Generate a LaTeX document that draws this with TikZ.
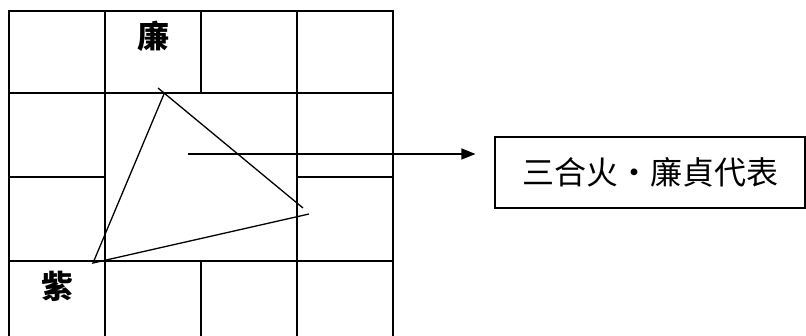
\documentclass[tikz,border=0pt]{standalone}
\usepackage{fontspec}
\newfontfamily\cjk{Noto Sans CJK TC}
\usetikzlibrary{arrows.meta}

\begin{document}
\begin{tikzpicture}[x=1pt,y=-1pt,line width=1.5pt]
    \useasboundingbox (0,0) rectangle (806,336);
    \clip (0,0) rectangle (806,336);
    % chart grid
    \draw (9,337) -- (9,11) -- (393,11) -- (393,337);
    \draw (9,93) -- (393,93);
    \draw (9,261) -- (393,261);
    \draw (9,177) -- (105,177);
    \draw (297,177) -- (393,177);
    \draw (105,11) -- (105,337);
    \draw (297,11) -- (297,337);
    \draw (201,11) -- (201,93);
    \draw (201,261) -- (201,337);
    \node (L) [anchor=center, font=\cjk\bfseries\fontsize{32}{32}\selectfont] at (153,36) {廉};
    \node (Z) [anchor=center, font=\cjk\bfseries\fontsize{32}{32}\selectfont] at (57,286) {紫};
    \node (T) [draw, line width=1.1pt, minimum width=310pt, minimum height=71pt, anchor=center,
      font=\cjk\fontsize{32}{32}\selectfont] at (650,172.5) {三合火・廉貞代表};
    % triangle
    \coordinate (A1) at (158,88);
    \coordinate (A2) at (164,94);
    \coordinate (B) at (303,208);
    \coordinate (C) at (309,214);
    \coordinate (D) at (93,263);
    \coordinate (S) at (188,154);
    \draw[line width=1.3pt] (A1) -- (B);
    \draw[line width=1.3pt] (A2) -- (D) -- (C);
    \draw[line width=1.3pt, -{Triangle[length=14pt,width=11pt]}] (S) -- ([xshift=-19pt]T.west |- S);
  \end{tikzpicture}
\end{document}
